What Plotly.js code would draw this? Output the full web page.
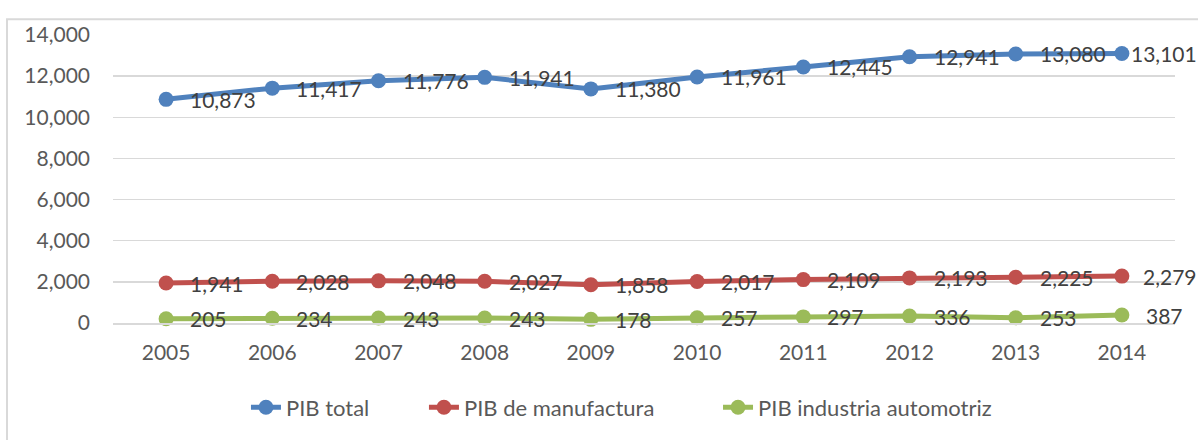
<!DOCTYPE html>
<html>
<head>
<meta charset="utf-8">
<script src="https://cdn.plot.ly/plotly-3.0.1.min.js"></script>
<style>html,body{margin:0;padding:0;background:#fff;}#chart{width:1198px;height:440px;}</style>
</head>
<body>
<div id="chart"></div>
<script>
const years = ['2005','2006','2007','2008','2009','2010','2011','2012','2013','2014'];
const pibTotal = [10873, 11417, 11776, 11941, 11380, 11961, 12445, 12941, 13080, 13101];
const pibManufactura = [1941, 2028, 2048, 2027, 1858, 2017, 2109, 2193, 2225, 2279];
const pibAutomotriz = [205, 234, 243, 243, 178, 257, 297, 336, 253, 387];
const seriesNames = ['PIB total', 'PIB de manufactura', 'PIB industria automotriz'];
const yTicks = [0, 2000, 4000, 6000, 8000, 10000, 12000, 14000];

const colors = ['#4F81BD', '#C0504D', '#9BBB59'];
const allSeries = [pibTotal, pibManufactura, pibAutomotriz];
const fmt = v => v.toLocaleString('en-US');
const FONT = 'Lato, "Open Sans", sans-serif';
const legendIds = ['legend', 'legend2', 'legend3'];
const legendX = [0.1252, 0.2928, 0.5697];

const W = 1198, ML = 113, MR = 23;
const LABEL_SIZE = 21;
const plotW = W - ML - MR;

const traces = allSeries.map((vals, k) => ({
  type: 'scatter', mode: 'lines+markers', name: seriesNames[k],
  x: years, y: vals,
  line: {color: colors[k], width: 5},
  marker: {color: colors[k], size: 15},
  cliponaxis: false,
  legend: legendIds[k],
  hoverinfo: 'skip'
}));

// estimated rendered width of a label, used to keep labels inside the chart (as Excel does)
const estWidth = t => [...t].reduce((s, c) => s + (c === ',' ? 0.26 : 0.58), 0) * LABEL_SIZE;

const annotations = [];
allSeries.forEach((vals, k) => {
  vals.forEach((v, i) => {
    const t = fmt(v);
    const px = ML + (i + 0.5) * plotW / years.length;
    let shift = 22;
    const w = estWidth(t);
    if (px + shift + w > W - 3) shift = W - 3 - w - px;
    annotations.push({
      x: i, y: v, xref: 'x', yref: 'y', text: t, showarrow: false,
      xanchor: 'left', yanchor: 'middle', xshift: shift, yshift: 0,
      font: {family: FONT, size: LABEL_SIZE, color: '#404040'}
    });
  });
});

const legendBase = {orientation: 'h', xanchor: 'left', y: -0.293, yanchor: 'middle',
  font: {family: FONT, size: 22, color: '#595959'}, itemclick: false,
  bgcolor: 'rgba(0,0,0,0)'};

const layout = {
  width: W, height: 440,
  margin: {l: ML, r: MR, t: 35, b: 115},
  paper_bgcolor: '#ffffff', plot_bgcolor: '#ffffff',
  font: {family: FONT, color: '#595959'},
  showlegend: true,
  xaxis: {type: 'category', range: [-0.5, 9.5], showgrid: false, zeroline: false,
          showline: true, linecolor: '#D9D9D9', linewidth: 1.5, ticks: '',
          tickfont: {family: FONT, size: 21, color: '#595959'}, ticklabelstandoff: 10,
          fixedrange: true},
  yaxis: {range: [0, 14000], tickvals: yTicks, ticktext: yTicks.map(fmt),
          showgrid: true, gridcolor: '#D9D9D9', gridwidth: 1.5, zeroline: false,
          showline: false, ticks: '', tickfont: {family: FONT, size: 21, color: '#595959'},
          ticklabelstandoff: 22, fixedrange: true},
  annotations: annotations,
  shapes: [{type: 'rect', xref: 'paper', yref: 'paper', x0: -0.0998, x1: 1.03, y0: -0.45, y1: 1.055,
            line: {color: '#D9D9D9', width: 2}, fillcolor: 'rgba(0,0,0,0)', layer: 'below'}]
};
legendIds.forEach((id, k) => { layout[id] = Object.assign({}, legendBase, {x: legendX[k]}); });

Plotly.newPlot('chart', traces, layout, {displayModeBar: false, staticPlot: true});
</script>
</body>
</html>
